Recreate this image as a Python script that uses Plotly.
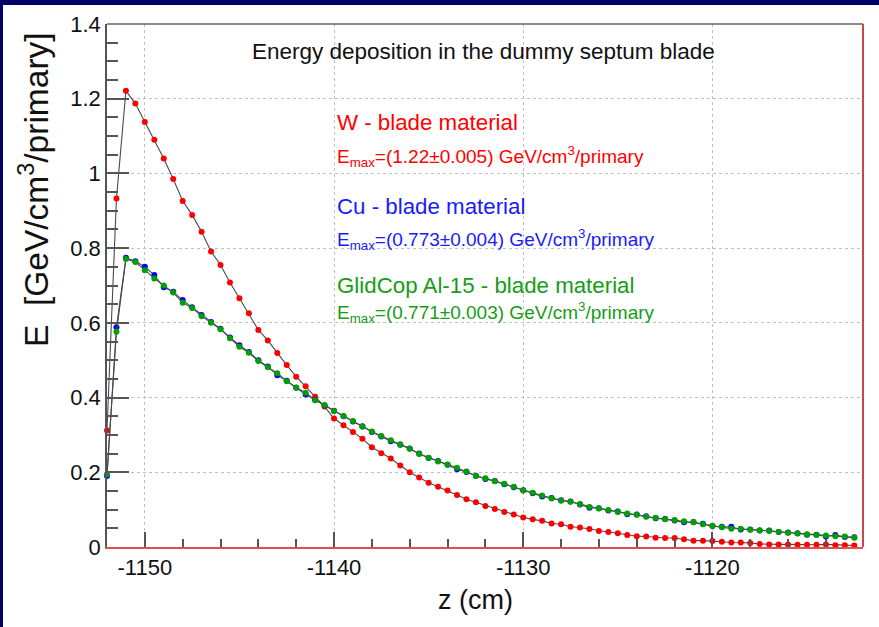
import plotly.graph_objects as go

# ---------------- data ----------------
z_cm = [-1152.0, -1151.5, -1151.0, -1150.5, -1150.0, -1149.5, -1149.0, -1148.5, -1148.0, -1147.5,
        -1147.0, -1146.5, -1146.0, -1145.5, -1145.0, -1144.5, -1144.0, -1143.5, -1143.0, -1142.5,
        -1142.0, -1141.5, -1141.0, -1140.5, -1140.0, -1139.5, -1139.0, -1138.5, -1138.0, -1137.5,
        -1137.0, -1136.5, -1136.0, -1135.5, -1135.0, -1134.5, -1134.0, -1133.5, -1133.0, -1132.5,
        -1132.0, -1131.5, -1131.0, -1130.5, -1130.0, -1129.5, -1129.0, -1128.5, -1128.0, -1127.5,
        -1127.0, -1126.5, -1126.0, -1125.5, -1125.0, -1124.5, -1124.0, -1123.5, -1123.0, -1122.5,
        -1122.0, -1121.5, -1121.0, -1120.5, -1120.0, -1119.5, -1119.0, -1118.5, -1118.0, -1117.5,
        -1117.0, -1116.5, -1116.0, -1115.5, -1115.0, -1114.5, -1114.0, -1113.5, -1113.0, -1112.5]

e_W = [0.312, 0.933, 1.221, 1.187, 1.138, 1.090, 1.040, 0.985, 0.926, 0.889,
       0.844, 0.791, 0.755, 0.708, 0.666, 0.626, 0.581, 0.553, 0.519, 0.487,
       0.456, 0.430, 0.402, 0.376, 0.344, 0.326, 0.308, 0.290, 0.267, 0.251,
       0.237, 0.218, 0.200, 0.186, 0.172, 0.161, 0.151, 0.139, 0.128, 0.120,
       0.110, 0.102, 0.094, 0.087, 0.079, 0.074, 0.070, 0.063, 0.061, 0.054,
       0.052, 0.048, 0.043, 0.040, 0.037, 0.032, 0.029, 0.028, 0.025, 0.024,
       0.024, 0.021, 0.017, 0.017, 0.016, 0.014, 0.012, 0.012, 0.011, 0.008,
       0.007, 0.007, 0.007, 0.006, 0.006, 0.006, 0.007, 0.005, 0.005, 0.004]

e_Cu = [0.190, 0.588, 0.774, 0.765, 0.750, 0.728, 0.695, 0.683, 0.661, 0.642,
        0.621, 0.602, 0.584, 0.561, 0.540, 0.522, 0.500, 0.483, 0.460, 0.445,
        0.426, 0.408, 0.394, 0.379, 0.365, 0.350, 0.336, 0.323, 0.308, 0.296,
        0.283, 0.274, 0.264, 0.250, 0.238, 0.230, 0.220, 0.208, 0.201, 0.191,
        0.182, 0.177, 0.168, 0.160, 0.152, 0.144, 0.135, 0.131, 0.125, 0.122,
        0.114, 0.105, 0.104, 0.098, 0.095, 0.088, 0.087, 0.082, 0.077, 0.075,
        0.071, 0.066, 0.067, 0.062, 0.056, 0.054, 0.054, 0.047, 0.047, 0.044,
        0.044, 0.040, 0.039, 0.037, 0.033, 0.033, 0.028, 0.032, 0.027, 0.026]

e_GlidCop = [0.195, 0.576, 0.771, 0.763, 0.741, 0.719, 0.700, 0.681, 0.654, 0.640,
             0.618, 0.600, 0.583, 0.559, 0.536, 0.520, 0.498, 0.481, 0.465, 0.444,
             0.427, 0.413, 0.393, 0.380, 0.364, 0.351, 0.337, 0.322, 0.309, 0.297,
             0.286, 0.275, 0.263, 0.249, 0.239, 0.229, 0.221, 0.212, 0.202, 0.190,
             0.184, 0.176, 0.169, 0.161, 0.151, 0.145, 0.138, 0.130, 0.124, 0.121,
             0.115, 0.107, 0.103, 0.099, 0.094, 0.090, 0.086, 0.081, 0.078, 0.074,
             0.072, 0.069, 0.066, 0.061, 0.057, 0.053, 0.049, 0.049, 0.046, 0.045,
             0.043, 0.041, 0.038, 0.036, 0.034, 0.032, 0.031, 0.029, 0.028, 0.025]

x_tick_vals = [-1150, -1140, -1130, -1120]
x_tick_text = ["-1150", "-1140", "-1130", "-1120"]
y_tick_vals = [0, 0.2, 0.4, 0.6, 0.8, 1.0, 1.2, 1.4]
y_tick_text = ["0", "0.2", "0.4", "0.6", "0.8", "1", "1.2", "1.4"]

series_names = ["W", "Cu", "GlidCop Al-15"]
series_colors = ["#ff0000", "#0000ff", "#00a000"]
text_colors = ["#ff0000", "#1a1aff", "#169c16"]
emax_text = ["(1.22\u00b10.005)", "(0.773\u00b10.004)", "(0.771\u00b10.003)"]

# ---------------- layout geometry ----------------
W, H = 879, 627
L, R, T, B = 107, 16, 24, 80
PW, PH = W - L - R, H - T - B

def px(xp):
    return (xp - L) / PW

def py(yp):
    return (H - B - yp) / PH

FONT = "Liberation Sans, Arial, Helvetica, sans-serif"

fig = go.Figure()

for name, vals, col in [(series_names[0], e_W, series_colors[0]),
                        (series_names[1], e_Cu, series_colors[1]),
                        (series_names[2], e_GlidCop, series_colors[2])]:
    fig.add_trace(go.Scatter(
        x=z_cm, y=vals, name=name, mode="lines+markers",
        line=dict(color="#4a4a4a", width=1.1),
        marker=dict(color=col, size=6, line=dict(width=0)),
        cliponaxis=False, showlegend=False,
    ))

annotations = []
# title
annotations.append(dict(x=px(483), y=py(52), xref="paper", yref="paper",
                        text="Energy deposition in the dummy septum blade",
                        showarrow=False, xanchor="center", yanchor="middle",
                        font=dict(family=FONT, size=22.5, color="#111111")))
# material labels
label_y = [122, 206, 285]
emax_y = [157, 239, 312]
for i in range(3):
    annotations.append(dict(x=px(335), y=py(label_y[i]), xref="paper", yref="paper",
                            text=f"{series_names[i]} - blade material",
                            showarrow=False, xanchor="left", yanchor="middle",
                            font=dict(family=FONT, size=22.3, color=text_colors[i])))
    annotations.append(dict(x=px(335), y=py(emax_y[i]), xref="paper", yref="paper",
                            text=f"E<sub>max</sub>={emax_text[i]} GeV/cm<sup>3</sup>/primary",
                            showarrow=False, xanchor="left", yanchor="middle",
                            font=dict(family=FONT, size=19, color=text_colors[i])))
# axis titles
annotations.append(dict(x=px(34), y=py(190), xref="paper", yref="paper",
                        text="E\u00a0\u00a0[GeV/cm<sup>3</sup>/primary]", textangle=-90,
                        showarrow=False, xanchor="center", yanchor="middle",
                        font=dict(family=FONT, size=33.5, color="#111111")))
annotations.append(dict(x=px(475), y=py(600), xref="paper", yref="paper",
                        text="z (cm)", showarrow=False, xanchor="center", yanchor="middle",
                        font=dict(family=FONT, size=27, color="#111111")))

shapes = [
    # navy border (top and left)
    dict(type="rect", xref="paper", yref="paper", x0=px(0), x1=px(W), y0=py(5), y1=py(0),
         fillcolor="#000068", line=dict(width=0), layer="above"),
    dict(type="rect", xref="paper", yref="paper", x0=px(0), x1=px(3), y0=py(H), y1=py(0),
         fillcolor="#000068", line=dict(width=0), layer="above"),
    # frame: top grey, right red
    dict(type="line", xref="paper", yref="paper", x0=0, x1=1, y0=1, y1=1,
         line=dict(color="#666666", width=1.5), layer="above"),
    dict(type="line", xref="paper", yref="paper", x0=1, x1=1, y0=0, y1=1,
         line=dict(color="#c84848", width=2), layer="above"),
]

fig.update_layout(
    width=W, height=H,
    margin=dict(l=L, r=R, t=T, b=B, pad=0),
    paper_bgcolor="white", plot_bgcolor="white",
    annotations=annotations, shapes=shapes,
    xaxis=dict(range=[-1152, -1112.04], tickvals=x_tick_vals, ticktext=x_tick_text,
               ticks="inside", ticklen=15, tickwidth=1.5, tickcolor="#555555",
               minor=dict(dtick=2, tick0=-1150, ticks="inside", ticklen=8, tickwidth=1.5,
                          tickcolor="#555555", showgrid=False),
               showgrid=True, gridcolor="#c0c0c0", griddash="dot", gridwidth=1,
               showline=True, linecolor="#e05050", linewidth=2,
               zeroline=False,
               tickfont=dict(family=FONT, size=22, color="#111111")),
    yaxis=dict(range=[0, 1.4], tickvals=y_tick_vals, ticktext=y_tick_text,
               ticks="inside", ticklen=22, tickwidth=1.5, tickcolor="#555555",
               minor=dict(dtick=0.05, tick0=0, ticks="inside", ticklen=11, tickwidth=1.5,
                          tickcolor="#555555", showgrid=False),
               showgrid=True, gridcolor="#c0c0c0", griddash="dot", gridwidth=1,
               showline=True, linecolor="#555555", linewidth=1.5,
               zeroline=False,
               tickfont=dict(family=FONT, size=22, color="#111111")),
)

fig.write_html("out.html")
